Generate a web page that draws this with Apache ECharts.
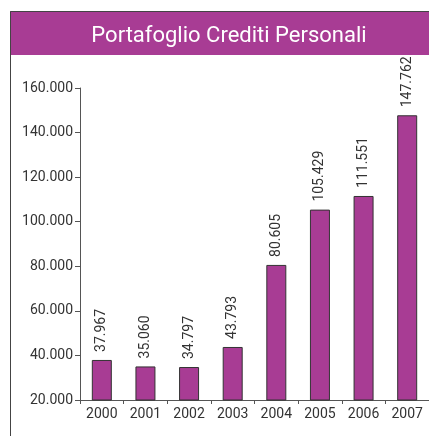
<!DOCTYPE html>
<html>
<head>
<meta charset="utf-8">
<script src="https://cdn.jsdelivr.net/npm/echarts@6/dist/echarts.min.js"></script>
<style>
  html, body { margin: 0; padding: 0; background: #fff; }
  #chart { width: 429px; height: 436px; }
</style>
</head>
<body>
<div id="chart"></div>
<script>
var years = ['2000', '2001', '2002', '2003', '2004', '2005', '2006', '2007']
var crediti = [37967, 35060, 34797, 43793, 80605, 105429, 111551, 147762]
var chartTitle = 'Portafoglio Crediti Personali'

var purple = '#a83c94'
var textColor = '#333'

// 37967 -> "37.967"
function fmt (v) {
  return String(v).replace(/\B(?=(\d{3})+(?!\d))/g, '.')
}

var chart = echarts.init(document.getElementById('chart'))
chart.setOption({
  backgroundColor: '#fff',
  animation: false,
  textStyle: { fontFamily: 'Roboto' },
  title: {
    text: chartTitle,
    left: 224,
    top: 20,
    textAlign: 'center',
    textStyle: { color: '#fff', fontSize: 22, fontWeight: 'normal', fontFamily: 'Roboto' }
  },
  graphic: [
    { type: 'rect', z: -1, shape: { x: 10, y: 11, width: 430, height: 44 }, style: { fill: purple } },
    { type: 'polyline', z: 0, shape: { points: [[10.5, 440], [10.5, 11.5], [440, 11.5]] }, style: { stroke: '#444', lineWidth: 1, fill: null } }
  ],
  grid: { left: 80, right: 0, top: 88, bottom: 36 },
  xAxis: {
    type: 'category',
    data: years,
    axisLine: { lineStyle: { color: '#555' } },
    axisTick: { show: true, length: 4, lineStyle: { color: '#555' } },
    axisLabel: { color: textColor, fontSize: 14, margin: 7 }
  },
  yAxis: {
    type: 'value',
    min: 20000,
    max: 160000,
    interval: 20000,
    splitLine: { show: false },
    axisLine: { show: true, lineStyle: { color: '#555' } },
    axisTick: { show: true, length: 5, lineStyle: { color: '#555' } },
    axisLabel: { color: textColor, fontSize: 14, margin: 7, formatter: fmt }
  },
  series: [{
    type: 'bar',
    data: crediti,
    barWidth: 20,
    itemStyle: { color: purple, borderColor: '#333', borderWidth: 1 },
    label: {
      show: true,
      position: 'top',
      rotate: 90,
      align: 'left',
      verticalAlign: 'middle',
      distance: 8,
      color: textColor,
      fontSize: 14,
      formatter: function (p) { return fmt(p.value) }
    }
  }]
})
</script>
</body>
</html>
